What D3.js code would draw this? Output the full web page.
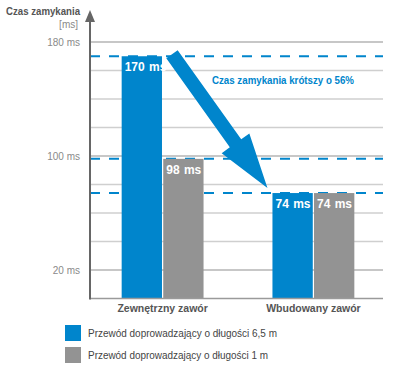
<!DOCTYPE html>
<html>
<head>
<meta charset="utf-8">
<script src="https://cdn.jsdelivr.net/npm/d3@7"></script>
<style>
  body { margin: 0; background: #fff; }
  svg { display: block; font-family: "Liberation Sans", Arial, sans-serif; }
</style>
</head>
<body>
<div id="chart"></div>
<script>
const categories = ['Zewnętrzny zawór', 'Wbudowany zawór'];
const series = ['Przewód doprowadzający o długości 6,5 m', 'Przewód doprowadzający o długości 1 m'];
const values = [[170, 98], [74, 74]]; // per category: [6,5 m, 1 m]
const tickValues = [20, 100, 180];
const gridValues = [20, 40, 60, 80, 100, 120, 140, 160, 180];
const colors = ['#0085cc', '#939393'];
const annotation = 'Czas zamykania krótszy o 56%';

const width = 400, height = 370;
const svg = d3.select('#chart').append('svg')
    .attr('width', width).attr('height', height);

const area = { left: 90, right: 383, top: 22, bottom: 298.5 };

const y = d3.scaleLinear().domain([0, 180]).range([area.bottom, 42]);
const x0 = d3.scaleBand().domain(categories).range([90, 386])
    .paddingInner(0.457).paddingOuter(0.21);
const x1 = d3.scaleBand().domain(d3.range(series.length)).range([0, x0.bandwidth()])
    .paddingInner(0.03);

// gridlines
svg.append('g')
    .selectAll('line').data(gridValues).join('line')
    .attr('x1', area.left).attr('x2', area.right)
    .attr('y1', d => y(d)).attr('y2', d => y(d))
    .attr('stroke', d => tickValues.includes(d) ? '#b4b4b4' : '#cfcfcf')
    .attr('stroke-width', 1.5);

// dashed reference lines at bar values
const dashVals = Array.from(new Set(values.flat()));
svg.append('g')
    .selectAll('line').data(dashVals).join('line')
    .attr('x1', area.left).attr('x2', area.right)
    .attr('y1', d => y(d)).attr('y2', d => y(d))
    .attr('stroke', colors[0])
    .attr('stroke-width', 2)
    .attr('stroke-dasharray', '10,9');

// bars
const groups = svg.append('g').selectAll('g').data(categories).join('g')
    .attr('transform', d => `translate(${x0(d)},0)`);

groups.selectAll('rect')
    .data((d, i) => values[i].map((v, j) => ({ v, j })))
    .join('rect')
    .attr('x', d => x1(d.j))
    .attr('width', x1.bandwidth())
    .attr('y', d => y(d.v))
    .attr('height', d => y(0) - y(d.v))
    .attr('fill', d => colors[d.j]);

groups.selectAll('text')
    .data((d, i) => values[i].map((v, j) => ({ v, j })))
    .join('text')
    .attr('x', d => x1(d.j) + 3)
    .attr('y', d => y(d.v) + 15)
    .attr('fill', '#fff')
    .style('font-weight', 'bold')
    .style('font-size', '12px')
    .style('word-spacing', '1px')
    .text(d => `${d.v} ms`);

// category labels
svg.append('g').selectAll('text').data(categories).join('text')
    .attr('x', d => x0(d) + x0.bandwidth() / 2)
    .attr('y', 312)
    .attr('text-anchor', 'middle')
    .attr('fill', '#555')
    .style('font-weight', 'bold')
    .style('font-size', '10.5px')
    .text(d => d);

// axes
const yAxis = svg.append('g')
    .attr('transform', `translate(${area.left},0)`)
    .call(d3.axisLeft(y).tickValues(tickValues).tickSize(0).tickPadding(10)
        .tickFormat(d => `${d} ms`));
yAxis.select('.domain').remove();
yAxis.selectAll('text')
    .attr('fill', '#8a8a8a')
    .style('font-size', '10px')
    .style('font-family', '"Liberation Sans", Arial, sans-serif');

svg.append('line')
    .attr('x1', area.left).attr('x2', area.right)
    .attr('y1', area.bottom).attr('y2', area.bottom)
    .attr('stroke', '#9a9a9a').attr('stroke-width', 1.5);

svg.append('line')
    .attr('x1', area.left).attr('x2', area.left)
    .attr('y1', area.bottom + 1).attr('y2', area.top)
    .attr('stroke', '#666').attr('stroke-width', 2);
svg.append('path')
    .attr('d', `M${area.left - 5},${area.top}L${area.left},${area.top - 12}L${area.left + 5},${area.top}Z`)
    .attr('fill', '#666');

// axis title
svg.append('text').attr('x', 6).attr('y', 15)
    .attr('textLength', 74).attr('lengthAdjust', 'spacingAndGlyphs')
    .attr('fill', '#555').style('font-weight', 'bold').style('font-size', '10.5px')
    .text('Czas zamykania');
svg.append('text').attr('x', 78).attr('y', 28).attr('text-anchor', 'end')
    .attr('fill', '#8a8a8a').style('font-size', '10px')
    .text('[ms]');

// big arrow from the tallest bar to the shorter one
const tail = [x0(categories[0]) + x1(0) + x1.bandwidth() + 10, y(values[0][0]) - 2];
const tip = [x0(categories[1]) + x1(0) - 5, y(values[1][0]) - 5];
const dx = tip[0] - tail[0], dy = tip[1] - tail[1];
const len = Math.hypot(dx, dy);
const ux = dx / len, uy = dy / len, px = uy, py = -ux;
const shaftW = 7, headW = 17, headL = 55;
const hb = [tip[0] - ux * headL, tip[1] - uy * headL];
const pts = [
  [tail[0] + px * shaftW, tail[1] + py * shaftW],
  [hb[0] + px * shaftW, hb[1] + py * shaftW],
  [hb[0] + px * headW, hb[1] + py * headW],
  tip,
  [hb[0] - px * headW, hb[1] - py * headW],
  [hb[0] - px * shaftW, hb[1] - py * shaftW],
  [tail[0] - px * shaftW, tail[1] - py * shaftW]
];
svg.append('path')
    .attr('d', d3.line()(pts) + 'Z')
    .attr('fill', colors[0]);

svg.append('text').attr('x', 212).attr('y', 84)
    .attr('textLength', 142).attr('lengthAdjust', 'spacingAndGlyphs')
    .attr('fill', colors[0]).style('font-weight', 'bold').style('font-size', '10px')
    .text(annotation);

// legend
const legendLen = [189, 180];
const legend = svg.append('g').selectAll('g').data(series).join('g')
    .attr('transform', (d, i) => `translate(65,${325 + i * 22})`);
legend.append('rect').attr('width', 16).attr('height', 16)
    .attr('fill', (d, i) => colors[i]);
legend.append('text').attr('x', 23).attr('y', 12)
    .attr('textLength', (d, i) => legendLen[i]).attr('lengthAdjust', 'spacingAndGlyphs')
    .attr('fill', '#444').style('font-size', '10.5px')
    .text(d => d);
</script>
</body>
</html>
